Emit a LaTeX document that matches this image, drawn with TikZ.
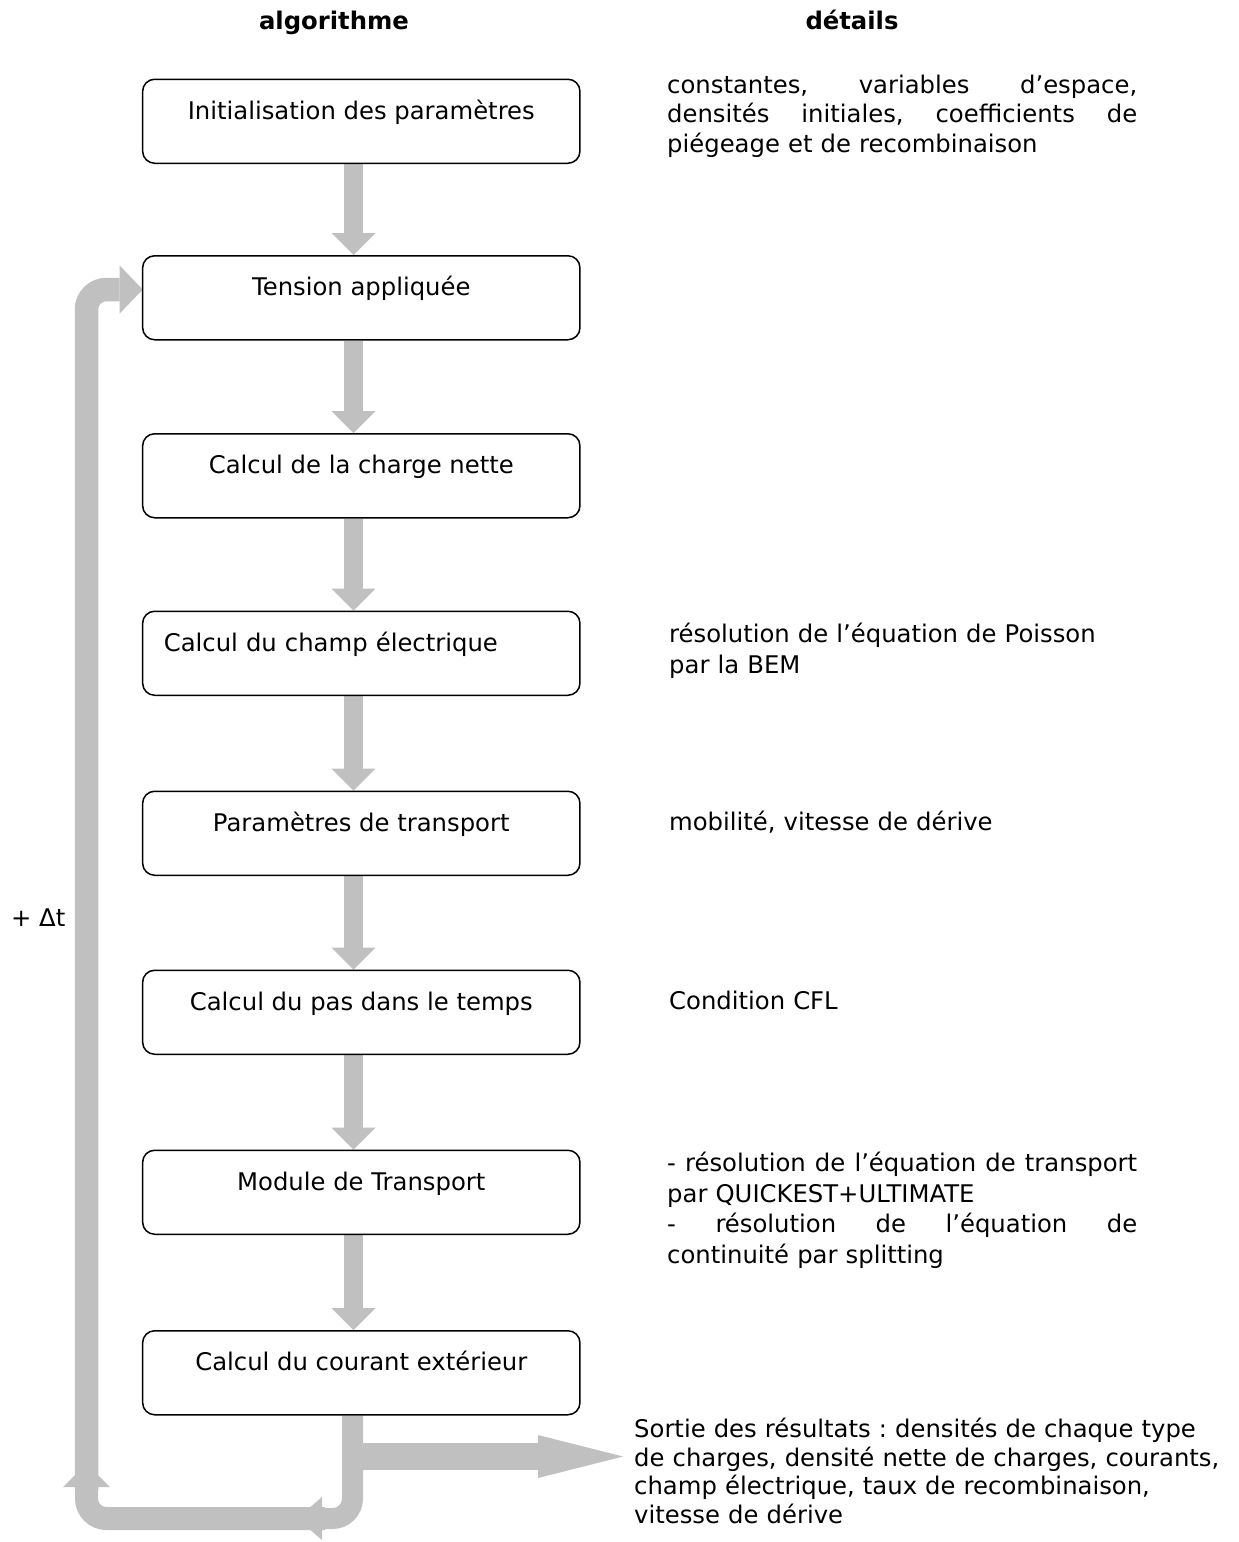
\documentclass[tikz,border=0pt]{standalone}
\usepackage{fontspec}
\setmainfont{DejaVu Sans}
\usetikzlibrary{arrows.meta,calc,backgrounds}
\definecolor{arrgray}{HTML}{C0C0C0}
\newcommand{\myfs}{\fontsize{24.3pt}{30pt}\selectfont}
\newcommand{\jl}[1]{\makebox[470pt][l]{#1}}
\frenchspacing
\begin{document}
\frenchspacing
\begin{tikzpicture}[x=1pt,y=1pt,
  box/.style={draw=black, line width=1.5pt, rounded corners=12pt, minimum width=437.3pt,
    inner sep=0pt, text height=40pt, text depth=44pt, anchor=north, font=\myfs},
  flow/.style={draw=arrgray, line width=19pt, -{Triangle[length=22pt,width=44pt,line width=0pt]}},
  loopA/.style={draw=arrgray, line width=21pt, rounded corners=20pt, -{Triangle[length=25pt,width=43pt,line width=0pt]}},
  loopB/.style={draw=arrgray, line width=23pt, rounded corners=20pt, -{Triangle[length=23.5pt,width=47pt,line width=0pt]}},
  loopC/.style={draw=arrgray, line width=23.5pt, rounded corners=20pt, -{Triangle[length=23pt,width=48pt,line width=0pt]}},
  outarr/.style={draw=arrgray, line width=27pt, -{Triangle[length=85pt,width=43pt,line width=0pt]}},
  detail/.style={anchor=base west, inner sep=0pt, text width=600pt, align=left},
  headtxt/.style={anchor=base, inner sep=0pt, font=\myfs\bfseries}]
\useasboundingbox (0,0) rectangle (1239,-1542);

\node[headtxt] (hA) at (334,-29) {algorithme};
\node[headtxt] (hD) at (852,-29) {détails};

\node[box] (b1) at (361.3,-78.5) {Initialisation des paramètres};
\node[box] (b2) at (361.3,-255) {Tension appliquée};
\node[box] (b3) at (361.3,-433) {Calcul de la charge nette};
\node[box, text width=395pt, align=left] (b4) at (361.3,-610.5) {Calcul du champ électrique};
\node[box] (b5) at (361.3,-790.5) {Paramètres de transport};
\node[box] (b6) at (361.3,-969.5) {Calcul du pas dans le temps};
\node[box] (b7) at (361.3,-1149.5) {Module de Transport};
\node[box] (b8) at (361.3,-1330) {Calcul du courant extérieur};

\node[detail, font=\fontsize{24.3pt}{29.5pt}\selectfont] (d1) at (667,-93.3)
  {\jl{constantes,\hfill variables\hfill d’espace,}\\
   \jl{densités\hfill initiales,\hfill coefficients\hfill de}\\
   piégeage et de recombinaison};
\node[detail, font=\fontsize{24.3pt}{31pt}\selectfont] (d4) at (669,-642)
  {résolution de l’équation de Poisson\\par la BEM};
\node[detail, font=\myfs] (d5) at (669,-830) {mobilité, vitesse de dérive};
\node[detail, font=\myfs] (d6) at (669,-1009) {Condition CFL};
\node[detail, font=\fontsize{24.3pt}{30.5pt}\selectfont] (d7) at (667,-1171.7)
  {\jl{-\hfill résolution\hfill de\hfill l’équation\hfill de\hfill transport}\\
   par QUICKEST+ULTIMATE\\
   \jl{-\hfill résolution\hfill de\hfill l’équation\hfill de}\\
   continuité par splitting};
\node[detail, font=\fontsize{24.3pt}{28.7pt}\selectfont] (d9) at (634,-1437.5)
  {Sortie des résultats : densités de chaque type\\
   de charges, densité nette de charges, courants,\\
   champ électrique, taux de recombinaison,\\
   vitesse de dérive};
\node[anchor=base east, inner sep=0pt, font=\myfs] (dt) at (65.5,-926.7) {+ Δt};

\coordinate (aC) at (352.5,-1518.5);
\coordinate (aE) at (297,-1518.5);
\coordinate (bS) at (325,-1518.5);
\coordinate (bC) at (86.5,-1518.5);
\coordinate (bE) at (86.5,-1463.5);
\coordinate (cS) at (86.5,-1490);
\coordinate (cC) at (86.5,-289.5);
\coordinate (cE) at (142.7,-289.5);
\coordinate (dS) at (352.5,-1456.5);
\coordinate (dE) at (623,-1456.5);

\begin{scope}[on background layer]
\foreach \a/\b in {b1/b2,b2/b3,b3/b4,b4/b5,b5/b6,b6/b7,b7/b8}
  {\draw[flow] ($(\a.south)+(-7.8,0)$) -- ($(\b.north)+(-7.8,0)$);}
\draw[loopA] ($(b8.south)+(-8.8,0)$) -- (aC) -- (aE);
\draw[loopB] (bS) -- (bC) -- (bE);
\draw[loopC] (cS) -- (cC) -- (cE);
\draw[outarr] (dS) -- (dE);
\end{scope}
\end{tikzpicture}
\end{document}
